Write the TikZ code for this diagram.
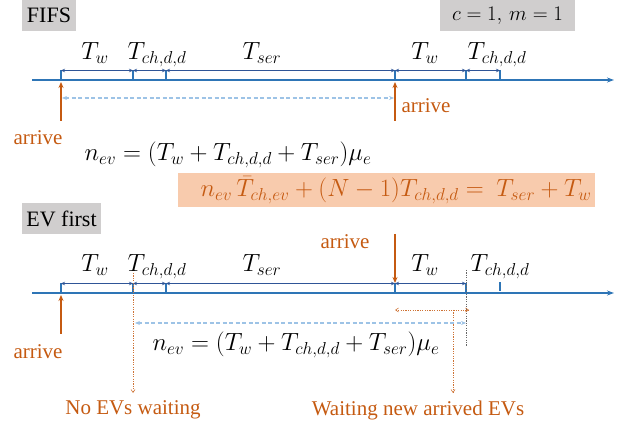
\documentclass[tikz,border=0pt]{standalone}
\usepackage{fontspec}
\setmainfont{Liberation Serif}
\usetikzlibrary{arrows.meta}
\definecolor{axisblue}{HTML}{2E75B6}
\definecolor{dimblue}{HTML}{2F5597}
\definecolor{orng}{HTML}{C55A11}
\definecolor{ltblue}{HTML}{9DC3E6}
\definecolor{grayfill}{HTML}{D0CECE}
\definecolor{peach}{HTML}{F8CBAD}
\begin{document}
\begin{tikzpicture}[x=1pt,y=-1pt,
  axis/.style={draw=axisblue, line width=1.6pt, -{Stealth[length=7pt,width=5pt]}},
  tickline/.style={draw=axisblue, line width=1.6pt},
  dimline/.style={draw=dimblue, line width=0.9pt, {Stealth[length=4pt,width=3.5pt]}-{Stealth[length=4pt,width=3.5pt]}},
  arrivearrow/.style={draw=orng, line width=1.6pt, -{Stealth[length=6pt,width=5pt]}},
  dashlink/.style={draw=ltblue, line width=1.2pt, dash pattern=on 4pt off 2.5pt, {Stealth[length=5pt,width=4pt]}-{Stealth[length=5pt,width=4pt]}},
  dotorange/.style={draw=orng!85, line width=0.6pt, dash pattern=on 1.2pt off 1.2pt},
  dotgray/.style={draw=black!60, line width=0.6pt, dash pattern=on 1.2pt off 1.2pt},
  smalltip/.style={-{Straight Barb[length=3pt,width=4pt]}},
  bothtip/.style={{Straight Barb[length=3pt,width=4pt]}-{Straight Barb[length=3pt,width=4pt]}},
  mathlbl/.style={font=\fontsize{23.5}{26}\selectfont, inner sep=0pt, anchor=base},
  mathfml/.style={font=\fontsize{23.5}{26}\selectfont, inner sep=0pt},
  txt/.style={text=orng, font=\fontsize{21}{24}\selectfont, inner sep=0pt},
  tagbox/.style={fill=grayfill, font=\fontsize{22}{24}\selectfont, inner sep=0pt, minimum height=31pt}
]
\useasboundingbox (0,0) rectangle (626,427);

% tags
\node[tagbox, minimum width=54pt] (fifs) at (49,15.5) {FIFS};
\node[tagbox, minimum width=135pt, font=\fontsize{22}{24}\selectfont] (cm) at (507.5,15.5) {$c = 1,\,m = 1$};
\node[tagbox, minimum width=79pt] (evfirst) at (61.5,218.5) {EV first};

% ---------------- top timeline ----------------
\coordinate (a0) at (32,80);
\coordinate (a9) at (614,80);
\draw[axis] (a0) -- (a9);
\foreach \n/\x in {1/61,2/133,3/166,4/395,5/466,6/500}{
  \coordinate (p\n) at (\x,80);
  \coordinate (q\n) at (\x,70.5);
  \draw[tickline] (p\n) -- (q\n);
}
\draw[dimline] (q1) -- (q2);
\draw[dimline] (q2) -- (q3);
\draw[dimline] (q3) -- (q4);
\draw[dimline] (q4) -- (q5);
\draw[dimline] (q5) -- (q6);

\node[mathlbl] (tw1) at (95,60) {$T_w$};
\node[mathlbl] (tc1) at (157,60) {$T_{ch,d,d}$};
\node[mathlbl] (ts1) at (262,60) {$T_{ser}$};
\node[mathlbl] (tw2) at (425,60) {$T_w$};
\node[mathlbl] (tc2) at (497,60) {$T_{ch,d,d}$};

\coordinate (ar1s) at (61,121);
\coordinate (ar1e) at (61,82);
\draw[arrivearrow] (ar1s) -- (ar1e);
\node[txt] (arr1) at (38,138) {arrive};
\coordinate (ar2s) at (395,121);
\coordinate (ar2e) at (395,82);
\draw[arrivearrow] (ar2s) -- (ar2e);
\node[txt] (arr2) at (426,106) {arrive};

\coordinate (d1l) at (62,98);
\coordinate (d1r) at (394,98);
\draw[dashlink] (d1l) -- (d1r);

\node[mathfml] (f1) at (228,155) {$n_{ev} = (T_w + T_{ch,d,d} + T_{ser})\mu_e$};

\fill[peach] (178,173) rectangle (595,207);
\node[mathfml, text=orng] (f2) at (396,190)
  {$n_{ev}\,\bar{T}_{ch,ev} + (N-1)T_{ch,d,d} = \ T_{ser} + T_w$};

% ---------------- bottom timeline ----------------
\coordinate (b0) at (32,293);
\coordinate (b9) at (614,293);
\draw[axis] (b0) -- (b9);
\foreach \n/\x in {1/61,2/133,3/166,4/395,5/466}{
  \coordinate (r\n) at (\x,293);
  \coordinate (s\n) at (\x,283.5);
  \draw[tickline] (r\n) -- (s\n);
}
\coordinate (r6) at (500,291);
\coordinate (s6) at (500,282);
\draw[tickline] (r6) -- (s6);
\draw[dimline] (s1) -- (s2);
\draw[dimline] (s2) -- (s3);
\draw[dimline] (s3) -- (s4);
\draw[dimline] (s4) -- (s5);

\node[mathlbl] (tw3) at (95,272) {$T_w$};
\node[mathlbl] (tc3) at (157,272) {$T_{ch,d,d}$};
\node[mathlbl] (ts3) at (262,272) {$T_{ser}$};
\node[mathlbl] (tw4) at (425,272) {$T_w$};
\node[mathlbl] (tc4) at (500,272) {$T_{ch,d,d}$};

\coordinate (ar3s) at (61,334);
\coordinate (ar3e) at (61,295);
\draw[arrivearrow] (ar3s) -- (ar3e);
\node[txt] (arr3) at (38,352) {arrive};
\coordinate (ar4s) at (395,234);
\coordinate (ar4e) at (395,283);
\draw[arrivearrow] (ar4s) -- (ar4e);
\node[txt] (arr4) at (345,242) {arrive};

% dotted guides
\coordinate (g1s) at (133,273);
\coordinate (g1e) at (133,393);
\draw[dotorange, smalltip] (g1s) -- (g1e);
\coordinate (g2s) at (466,270);
\coordinate (g2e) at (466,346);
\draw[dotgray] (g2s) -- (g2e);
\coordinate (w1) at (395,310);
\coordinate (w2) at (469,310);
\draw[dotorange, bothtip] (w1) -- (w2);
\coordinate (w3) at (453,310);
\coordinate (w4) at (453,393);
\draw[dotorange, smalltip] (w3) -- (w4);

\coordinate (d2l) at (135,323);
\coordinate (d2r) at (466,323);
\draw[dashlink] (d2l) -- (d2r);

\node[mathfml] (f3) at (296,345) {$n_{ev} = (T_w + T_{ch,d,d} + T_{ser})\mu_e$};

\node[txt] (noev) at (133,410) {No EVs waiting};
\node[txt] (wait) at (418,410) {Waiting new arrived EVs};
\end{tikzpicture}
\end{document}
